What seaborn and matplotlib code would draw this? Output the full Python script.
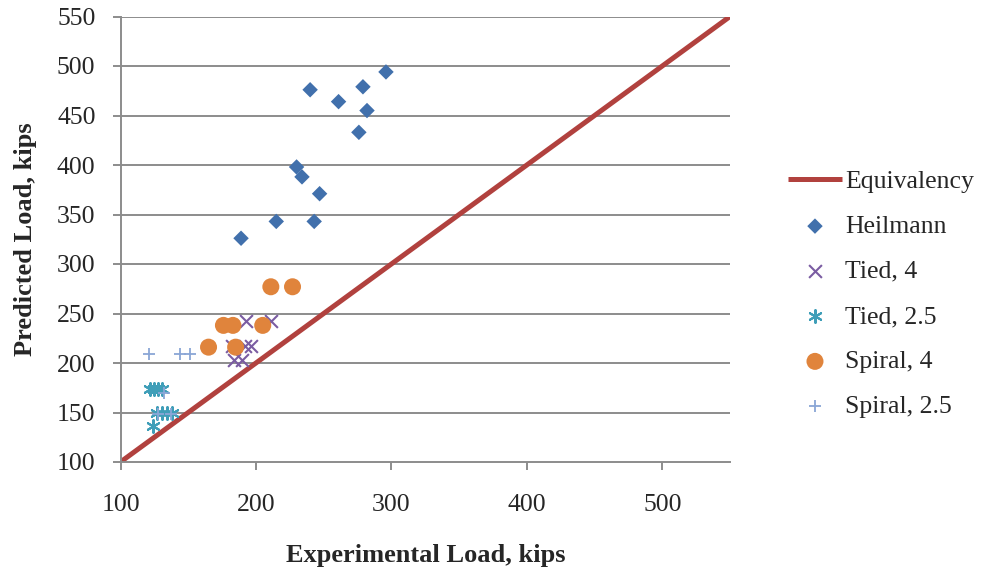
import matplotlib
matplotlib.use("Agg")
import matplotlib.pyplot as plt
import seaborn as sns
import pandas as pd

# Experimental vs predicted axial load (kips) for each column group
heilmann_exp = [189, 215, 243, 247, 234, 230, 276, 282, 279, 261, 240, 296]
heilmann_pred = [326, 343, 343, 371, 388, 398, 433, 455, 479, 464, 476, 494]

tied4_exp = [193, 211, 182, 192, 196, 184, 190]
tied4_pred = [242, 242, 217, 217, 217, 203, 203]

tied25_exp = [122, 125, 128, 131, 127, 131, 134, 138, 124]
tied25_pred = [174, 174, 174, 174, 149, 149, 149, 149, 136]

spiral4_exp = [176, 183, 205, 165, 185, 211, 227]
spiral4_pred = [238, 238, 238, 216, 216, 277, 277]

spiral25_exp = [121, 144, 151, 132, 128, 137]
spiral25_pred = [209, 209, 209, 170, 148, 148]

equiv_x = [100, 550]
equiv_y = [100, 550]

x_ticks = [100, 200, 300, 400, 500]
y_ticks = [100, 150, 200, 250, 300, 350, 400, 450, 500, 550]

sns.set_theme(style="white")
plt.rcParams["font.family"] = ["Liberation Serif", "DejaVu Serif"]

fig = plt.figure(figsize=(9.84, 5.69), dpi=100)
ax = fig.add_axes([120.5 / 984, 1 - 462 / 569, (730 - 120.5) / 984, (462 - 16.5) / 569])

for y in y_ticks[1:]:
    ax.axhline(y, color="#8c8c8c", lw=1.4, zorder=0)

sns.lineplot(x=equiv_x, y=equiv_y, ax=ax, color="#B1413E", lw=3.6,
             label="Equivalency", zorder=2, solid_capstyle="butt")

series = [
    ("Heilmann", heilmann_exp, heilmann_pred, "D", "#4170AC", 62, None),
    ("Tied, 4", tied4_exp, tied4_pred, "x", "#7A5CA2", 85, 1.5),
    ("Tied, 2.5", tied25_exp, tied25_pred, (6, 2, 0), "#3F9EB8", 85, 1.5),
    ("Spiral, 4", spiral4_exp, spiral4_pred, "o", "#E0843C", 150, None),
    ("Spiral, 2.5", spiral25_exp, spiral25_pred, "+", "#8AA6D6", 85, 1.3),
]
for name, xs, ys, mk, col, size, lw in series:
    df = pd.DataFrame({"exp": xs, "pred": ys})
    kw = dict(edgecolor="none") if lw is None else dict(linewidths=lw)
    sns.scatterplot(data=df, x="exp", y="pred", ax=ax, marker=mk, color=col,
                    s=size, label=name, zorder=3, **kw)

ax.set_xlim(100, 550)
ax.set_ylim(100, 550)
ax.set_xticks(x_ticks)
ax.set_yticks(y_ticks)

for side in ("top", "right"):
    ax.spines[side].set_visible(False)
for side in ("left", "bottom"):
    ax.spines[side].set_color("#8c8c8c")
    ax.spines[side].set_linewidth(1.4)

ax.tick_params(axis="x", direction="out", length=6, width=1.4, color="#8c8c8c",
               labelsize=18.5, pad=17, bottom=True)
ax.tick_params(axis="y", direction="out", length=6, width=1.4, color="#8c8c8c",
               labelsize=18.5, pad=12, left=True)

ax.set_xlabel("Experimental Load, kips", fontsize=19, fontweight="bold", labelpad=20)
ax.set_ylabel("Predicted Load, kips", fontsize=19, fontweight="bold", labelpad=14)

leg = ax.legend(loc="center left", bbox_to_anchor=(788 / 984, 1 - 294 / 569),
                bbox_transform=fig.transFigure, frameon=False, fontsize=18.5,
                handlelength=2.1, handletextpad=0.12, labelspacing=0.86,
                borderaxespad=0, borderpad=0)

fig.savefig("out.png", dpi=100)
